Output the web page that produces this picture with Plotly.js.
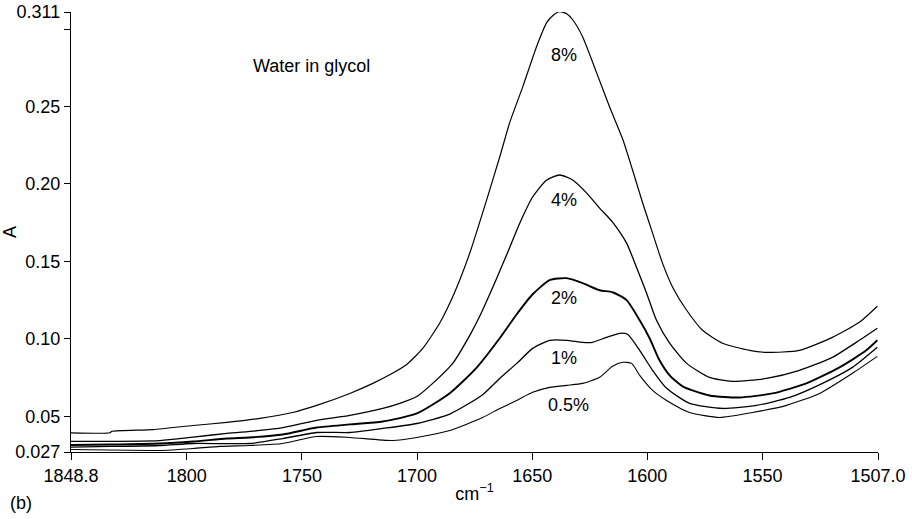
<!DOCTYPE html>
<html>
<head>
<meta charset="utf-8">
<script src="https://cdn.plot.ly/plotly-3.0.1.min.js"></script>
<style>html,body{margin:0;padding:0;background:#fff;}#chart{width:912px;height:519px;}</style>
</head>
<body>
<div id="chart"></div>
<script>
// wavenumber (cm-1) and absorbance values
const wn8 = [1850.3,1833.4,1832.5,1814.7,1797.3,1782.6,1768.3,1754.0,1743.6,1729.2,1719.2,1711.9,1704.5,1697.5,1690.2,1685.8,1681.5,1677.1,1669.8,1664.1,1659.8,1654.1,1648.1,1643.7,1641.1,1638.1,1635.0,1632.4,1628.1,1622.0,1616.4,1610.7,1606.4,1602.0,1597.7,1593.4,1589.0,1582.9,1576.0,1567.3,1555.6,1548.2,1533.9,1519.6,1507.9,1500.1];
const a8 = [0.0394,0.0394,0.0404,0.0415,0.0441,0.0461,0.0487,0.0525,0.0571,0.0648,0.0713,0.0768,0.0835,0.0939,0.1101,0.1230,0.1379,0.1554,0.1896,0.2174,0.2394,0.2627,0.2886,0.3041,0.3086,0.3112,0.3099,0.3060,0.2950,0.2717,0.2498,0.2290,0.2090,0.1877,0.1683,0.1489,0.1334,0.1185,0.1056,0.0972,0.0926,0.0913,0.0926,0.1010,0.1107,0.1211];

const wn4 = [1850.3,1811.7,1797.3,1782.6,1768.3,1758.3,1743.6,1729.2,1714.9,1707.5,1700.1,1693.2,1684.5,1677.1,1672.8,1665.4,1660.6,1655.4,1649.8,1643.7,1638.1,1632.4,1626.3,1620.7,1615.1,1609.0,1604.7,1600.3,1596.0,1590.3,1582.9,1573.0,1563.0,1548.2,1533.9,1519.6,1507.9,1500.1];
const a4 = [0.0338,0.0344,0.0366,0.0390,0.0409,0.0428,0.0474,0.0506,0.0551,0.0584,0.0628,0.0713,0.0842,0.1023,0.1146,0.1392,0.1560,0.1747,0.1916,0.2026,0.2058,0.2026,0.1941,0.1844,0.1754,0.1618,0.1463,0.1295,0.1120,0.0972,0.0842,0.0752,0.0726,0.0745,0.0797,0.0881,0.0991,0.1069];

const wn2 = [1850.3,1833.4,1811.7,1797.3,1782.6,1772.6,1758.3,1743.6,1729.2,1714.9,1700.1,1685.8,1674.1,1664.1,1656.7,1649.8,1642.4,1635.0,1628.1,1620.7,1615.1,1609.0,1603.3,1599.0,1594.7,1590.3,1584.7,1573.0,1559.9,1545.6,1530.9,1516.5,1504.9,1500.1];
const a2 = [0.0315,0.0318,0.0325,0.0338,0.0357,0.0364,0.0383,0.0428,0.0448,0.0467,0.0519,0.0650,0.0815,0.1004,0.1159,0.1288,0.1379,0.1392,0.1360,0.1314,0.1301,0.1250,0.1120,0.1004,0.0862,0.0765,0.0694,0.0635,0.0622,0.0648,0.0713,0.0816,0.0926,0.0991];

const wn1 = [1850.3,1833.4,1811.7,1797.3,1772.6,1758.3,1743.6,1729.2,1714.9,1700.1,1685.8,1671.5,1664.1,1656.7,1649.8,1642.4,1635.0,1628.1,1623.8,1617.7,1612.0,1608.6,1603.3,1597.7,1591.6,1581.6,1567.3,1552.6,1538.2,1523.9,1510.9,1500.1];
const a1 = [0.0302,0.0306,0.0312,0.0325,0.0325,0.0357,0.0396,0.0396,0.0422,0.0454,0.0515,0.0640,0.0745,0.0842,0.0939,0.0991,0.0991,0.0978,0.0978,0.1010,0.1036,0.1030,0.0926,0.0797,0.0681,0.0584,0.0551,0.0571,0.0622,0.0713,0.0816,0.0946];

const wn05 = [1850.3,1833.4,1816.0,1811.7,1797.3,1785.6,1772.6,1758.3,1743.6,1729.2,1710.6,1700.1,1685.8,1671.5,1664.1,1656.7,1649.8,1642.4,1635.0,1628.1,1620.7,1615.1,1610.7,1606.8,1603.3,1597.7,1591.6,1581.6,1568.6,1554.3,1539.5,1525.2,1510.9,1500.1];
const a05 = [0.0286,0.0283,0.0280,0.0280,0.0293,0.0306,0.0312,0.0325,0.0370,0.0364,0.0344,0.0364,0.0409,0.0493,0.0551,0.0603,0.0655,0.0687,0.0700,0.0713,0.0752,0.0823,0.0849,0.0842,0.0765,0.0668,0.0603,0.0525,0.0493,0.0525,0.0571,0.0648,0.0778,0.0887];

const seriesLabels = ["8%","4%","2%","1%","0.5%"];
const xTickVals = [1850.3,1800,1750,1700,1650,1600,1550,1499.8];
const xTickText = ["1848.8","1800","1750","1700","1650","1600","1550","1507.0"];
const yTickVals = [0.027,0.05,0.10,0.15,0.20,0.25,0.311];
const yTickText = ["0.027","0.05","0.10","0.15","0.20","0.25","0.311"];
const yMinorTicks = [0.30];

const FONT = "Liberation Sans, Arial, Helvetica, sans-serif";
function tr(x, y, w) {
  return {x: x, y: y, type: "scatter", mode: "lines",
    line: {color: "#000", width: w, shape: "spline", smoothing: 0.6},
    hoverinfo: "skip", showlegend: false};
}
const data = [tr(wn8,a8,1.2), tr(wn4,a4,1.3), tr(wn2,a2,1.9), tr(wn1,a1,1.3), tr(wn05,a05,1.1)];

const labelPos = [[1636.3,0.2834],[1636.3,0.1896],[1636.3,0.1263],[1636.3,0.0875],[1634.2,0.0571]];
const annotations = seriesLabels.map((t,i)=>({x: labelPos[i][0], y: labelPos[i][1], xref: "x", yref: "y",
  text: t, showarrow: false, font: {family: FONT, size: 18, color: "#000"}}));
annotations.push({x: 1746.0, y: 0.276, xref: "x", yref: "y", text: "Water in glycol", showarrow: false,
  xanchor: "center", font: {family: FONT, size: 18, color: "#000"}});
annotations.push({x: -0.078, y: -0.116, xref: "paper", yref: "paper", text: "(b)", showarrow: false,
  xanchor: "left", yanchor: "middle", font: {family: FONT, size: 18, color: "#000"}});

const layout = {
  width: 912, height: 519,
  margin: {l: 71, r: 34, t: 12, b: 67},
  paper_bgcolor: "#fff", plot_bgcolor: "#fff",
  font: {family: FONT, size: 18, color: "#000"},
  xaxis: {
    range: [1850.3, 1499.8], showgrid: false, zeroline: false,
    showline: true, linecolor: "#000", linewidth: 1.2,
    ticks: "outside", ticklen: 7, tickwidth: 1, tickcolor: "#000",
    tickmode: "array", tickvals: xTickVals, ticktext: xTickText,
    tickfont: {family: FONT, size: 18, color: "#000"},
    title: {text: "cm<sup>−1</sup>", font: {family: FONT, size: 18, color: "#000"}, standoff: 2},
    automargin: false
  },
  yaxis: {
    range: [0.027, 0.311], showgrid: false, zeroline: false,
    showline: true, linecolor: "#000", linewidth: 1.2,
    ticks: "outside", ticklen: 6, tickwidth: 1, tickcolor: "#000",
    tickmode: "array", tickvals: yTickVals, ticktext: yTickText,
    minor: {tickmode: "array", tickvals: yMinorTicks, ticks: "outside", ticklen: 6, tickwidth: 1, tickcolor: "#000", showgrid: false},
    tickfont: {family: FONT, size: 18, color: "#000"},
    title: {text: "A", font: {family: FONT, size: 18, color: "#000"}, standoff: 0},
    automargin: false
  },
  annotations: annotations
};
Plotly.newPlot("chart", data, layout, {displayModeBar: false, staticPlot: true});
</script>
</body>
</html>
